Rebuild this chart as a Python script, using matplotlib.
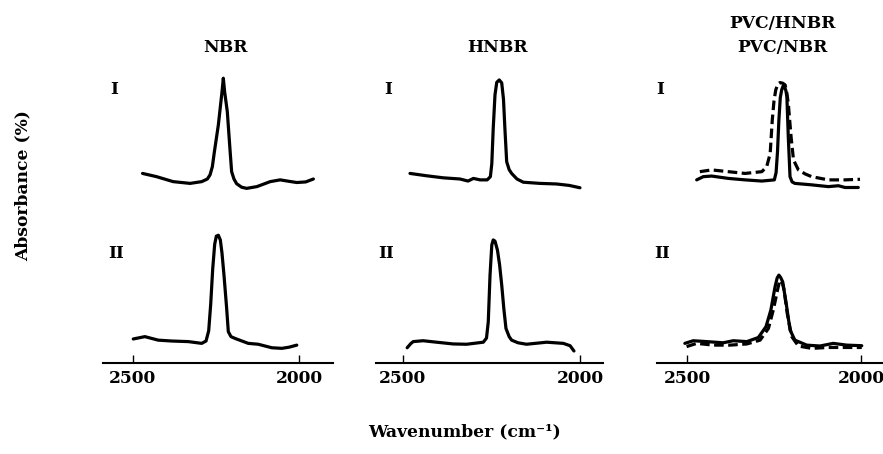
import matplotlib.pyplot as plt

# spectra: wavenumber (cm-1) and absorbance (arb. %)
# row I curves are stored relative to their own baseline, stacked above row II
nbr_I_wn = [2471, 2429, 2379, 2328, 2293, 2276, 2268, 2261, 2255, 2243, 2232, 2228, 2224,
            2216, 2208, 2203, 2196, 2188, 2173, 2158, 2127, 2087, 2057, 2030, 2007, 1980, 1957]
nbr_I_abs = [9.7, 8.6, 6.9, 6.3, 6.9, 7.8, 9.2, 12.0, 17.0, 26.2, 37.5, 42.2, 37.5,
             30.8, 18.0, 10.3, 7.8, 6.2, 5.0, 4.6, 5.2, 6.9, 7.5, 7.0, 6.6, 6.8, 7.8]
nbr_II_wn = [2499, 2464, 2424, 2383, 2333, 2293, 2280, 2272, 2266, 2260, 2254, 2249, 2243,
             2237, 2232, 2226, 2218, 2213, 2205, 2193, 2153, 2123, 2082, 2052, 2030, 2007]
nbr_II_abs = [8.2, 9.0, 7.8, 7.5, 7.3, 6.7, 7.5, 11.0, 20.0, 32.0, 40.5, 43.3, 43.6,
              42.0, 37.5, 30.0, 18.7, 10.7, 9.0, 8.4, 6.7, 6.4, 5.2, 5.0, 5.4, 6.1]

hnbr_I_wn = [2480, 2433, 2386, 2339, 2316, 2301, 2282, 2262, 2253, 2249, 2245, 2240, 2235,
             2228, 2221, 2216, 2212, 2207, 2200, 2193, 2178, 2160, 2113, 2066, 2030, 2000]
hnbr_I_abs = [9.7, 8.9, 8.2, 7.8, 7.1, 8.0, 7.5, 7.5, 8.6, 13.0, 25.0, 36.5, 40.8,
              41.6, 40.6, 35.0, 25.0, 13.7, 11.0, 9.7, 7.8, 6.7, 6.3, 6.1, 5.6, 4.8]
hnbr_II_wn = [2488, 2478, 2471, 2443, 2405, 2358, 2320, 2273, 2264, 2259, 2254, 2249, 2245,
              2240, 2233, 2227, 2221, 2215, 2209, 2200, 2193, 2175, 2151, 2094, 2047, 2028, 2017]
hnbr_II_abs = [5.2, 6.6, 7.3, 7.6, 7.1, 6.5, 6.4, 7.1, 8.5, 14.0, 30.0, 40.3, 42.0,
               41.6, 38.5, 33.5, 26.6, 18.5, 11.8, 9.0, 7.8, 6.9, 6.4, 7.1, 6.7, 5.9, 4.1]

# PVC/HNBR (solid) and PVC/NBR (dashed)
pvch_I_wn = [2472, 2453, 2429, 2381, 2333, 2285, 2249, 2244, 2240, 2236, 2232, 2228, 2224,
             2220, 2216, 2213, 2209, 2204, 2198, 2190, 2142, 2094, 2065, 2046, 2008]
pvch_I_abs = [7.5, 8.6, 8.8, 8.0, 7.5, 7.1, 7.5, 10.0, 17.0, 27.9, 35.5, 38.2, 39.5,
              39.3, 38.0, 35.9, 22.2, 8.6, 6.8, 6.3, 5.8, 5.2, 5.5, 4.9, 4.9]
pvcn_I_wn = [2463, 2429, 2381, 2333, 2285, 2271, 2261, 2255, 2250, 2245, 2239, 2233, 2225,
             2218, 2213, 2209, 2201, 2194, 2180, 2160, 2142, 2094, 2046, 2003]
pvcn_I_abs = [10.3, 10.9, 10.3, 9.7, 10.3, 12.0, 16.5, 27.9, 34.5, 38.2, 40.2, 40.7, 40.5,
              39.9, 37.0, 33.6, 22.2, 14.3, 10.9, 9.5, 8.6, 7.5, 7.5, 7.7]
pvch_II_wn = [2506, 2482, 2443, 2396, 2367, 2328, 2295, 2273, 2259, 2247, 2241, 2236, 2231,
              2225, 2215, 2204, 2190, 2156, 2118, 2080, 2041, 1998]
pvch_II_abs = [6.7, 7.6, 7.3, 6.9, 7.6, 7.3, 8.7, 12.4, 18.1, 26.0, 29.0, 30.0, 29.2,
               27.7, 20.3, 11.3, 7.8, 6.1, 5.8, 6.7, 6.1, 5.9]
pvcn_II_wn = [2501, 2472, 2424, 2376, 2328, 2290, 2266, 2252, 2240, 2235, 2231, 2226, 2221,
              2212, 2199, 2180, 2142, 2094, 2046, 1998]
pvcn_II_abs = [5.6, 6.7, 6.1, 6.1, 6.5, 7.8, 11.8, 18.1, 24.9, 27.5, 28.3, 27.3, 24.9,
               16.9, 9.0, 5.8, 5.0, 5.3, 5.3, 5.3]

titles = [['NBR'], ['HNBR'], ['PVC/HNBR', 'PVC/NBR']]
row_labels = ['I', 'II']
tick_vals = [2500, 2000]

W, H = 883, 454
fnt = dict(family='DejaVu Serif', fontweight='bold', fontsize=12.3, color='black')
lw = 2.3
row_I_offset = 55

def px(x, y):
    return x / W, 1 - y / H

fig = plt.figure(figsize=(W / 100, H / 100), dpi=100)

# axes boxes in pixels (left, right) and x-limits matching the scan
boxes = [(103, 333, (2590, 1898)), (376, 603, (2576, 1935)), (657, 883, (2586, 1937))]
curves = [
    [(nbr_I_wn, nbr_I_abs, '-', 1), (nbr_II_wn, nbr_II_abs, '-', 0)],
    [(hnbr_I_wn, hnbr_I_abs, '-', 1), (hnbr_II_wn, hnbr_II_abs, '-', 0)],
    [(pvcn_I_wn, pvcn_I_abs, '--', 1), (pvch_I_wn, pvch_I_abs, '-', 1),
     (pvcn_II_wn, pvcn_II_abs, '--', 0), (pvch_II_wn, pvch_II_abs, '-', 0)],
]

top, bottom = 70, 363
for (l, r, xl), cs in zip(boxes, curves):
    ax = fig.add_axes([l / W, 1 - bottom / H, (r - l) / W, (bottom - top) / H])
    for wn, ab, ls, row in cs:
        y = [v + row_I_offset * row for v in ab]
        if ls == '--':
            ax.plot(wn, y, color='black', lw=lw, linestyle=(0, (3, 1.4)))
        else:
            ax.plot(wn, y, color='black', lw=lw, solid_capstyle='round',
                    solid_joinstyle='round')
    ax.set_xlim(*xl)
    ax.set_ylim(0, 100)
    for s in ['top', 'right', 'left']:
        ax.spines[s].set_visible(False)
    ax.spines['bottom'].set_linewidth(1.5)
    ax.set_yticks([])
    ax.set_xticks(tick_vals)
    ax.set_xticklabels([str(t) for t in tick_vals], **fnt)
    ax.tick_params(axis='x', direction='in', length=6, width=1.0, pad=5)
    ax.patch.set_visible(False)

# column titles
fig.text(*px(225, 48), titles[0][0], ha='center', va='center', **fnt)
fig.text(*px(498, 48), titles[1][0], ha='center', va='center', **fnt)
fig.text(*px(782, 23), titles[2][0], ha='center', va='center', **fnt)
fig.text(*px(782, 47), titles[2][1], ha='center', va='center', **fnt)

# row labels
for x1, x2 in [(114, 116), (388, 386), (660, 662)]:
    fig.text(*px(x1, 90), row_labels[0], ha='center', va='center', **fnt)
    fig.text(*px(x2, 253), row_labels[1], ha='center', va='center', **fnt)

fig.text(*px(23, 186), 'Absorbance (%)', rotation=90, ha='center', va='center', **fnt)
fig.text(*px(465, 432), 'Wavenumber (cm\u207b\u00b9)', ha='center', va='center', **fnt)

fig.savefig('out.png', dpi=100)
